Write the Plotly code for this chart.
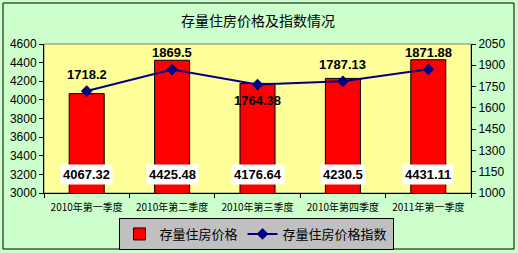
import plotly.graph_objects as go

categories = ["2010年第一季度", "2010年第二季度", "2010年第三季度", "2010年第四季度", "2011年第一季度"]
prices = [4067.32, 4425.48, 4176.64, 4230.5, 4431.11]
index_vals = [1718.2, 1869.5, 1764.38, 1787.13, 1871.88]
price_labels = ["4067.32", "4425.48", "4176.64", "4230.5", "4431.11"]
index_labels = ["1718.2", "1869.5", "1764.38", "1787.13", "1871.88"]
left_ticks = [3000, 3200, 3400, 3600, 3800, 4000, 4200, 4400, 4600]
right_ticks = [1000, 1150, 1300, 1450, 1600, 1750, 1900, 2050]

num_font = "Liberation Sans, Arial, sans-serif"
cjk_font = "Noto Sans CJK SC, sans-serif"

fig = go.Figure()
fig.add_trace(go.Bar(
    x=categories, y=prices, name="存量住房价格",
    marker=dict(color="#FF0000", line=dict(color="black", width=1)),
    yaxis="y",
))
fig.add_trace(go.Scatter(
    x=categories, y=index_vals, name="存量住房价格指数", mode="lines+markers",
    line=dict(color="#000080", width=2),
    marker=dict(symbol="diamond", size=9, color="#000080"),
    yaxis="y2",
))

annotations = []
for c, lab in zip(categories, price_labels):
    annotations.append(dict(
        x=c, y=3200, xref="x", yref="y", text="<b>" + lab + "</b>", showarrow=False,
        bgcolor="white", font=dict(family=num_font, size=13, color="black"),
        borderpad=2,
    ))
for i, (c, v, lab) in enumerate(zip(categories, index_vals, index_labels)):
    annotations.append(dict(
        x=c, y=v, xref="x", yref="y2", text="<b>" + lab + "</b>", showarrow=False,
        yshift=(-16 if i == 2 else 17),
        font=dict(family=num_font, size=13, color="black"),
    ))
annotations.append(dict(
    x=(258 - 44) / 427, y=(193 - 20) / 149, xref="paper", yref="paper", yanchor="middle",
    text="存量住房价格及指数情况", showarrow=False,
    font=dict(family=cjk_font, size=14, color="black"),
))

fig.update_layout(
    width=518, height=253,
    margin=dict(l=44, r=47, t=44, b=60, autoexpand=False),
    paper_bgcolor="#CCFFCC",
    plot_bgcolor="#FFFF99",
    bargap=0.59,
    showlegend=True,
    legend=dict(
        orientation="h", x=(256 - 44) / 427, xanchor="center",
        y=1 - 234 / 253, yref="container", yanchor="middle",
        bgcolor="#C0C0C0", bordercolor="black", borderwidth=1,
        font=dict(family=cjk_font, size=13, color="black"),
        itemwidth=30, tracegroupgap=0,
    ),
    xaxis=dict(
        showline=True, linecolor="black", linewidth=1,
        ticks="outside", ticklen=4, tickcolor="black",
        tickfont=dict(family=cjk_font, size=10, color="black"),
        showgrid=False, tickson="boundaries", ticklabelstandoff=5,
    ),
    yaxis=dict(
        range=[3000, 4600], tickvals=left_ticks, showgrid=False,
        showline=True, linecolor="black", linewidth=1,
        ticks="outside", ticklen=4, tickcolor="black",
        tickfont=dict(family=num_font, size=12, color="black"),
        zeroline=False,
    ),
    yaxis2=dict(
        range=[1000, 2050], tickvals=right_ticks, overlaying="y", side="right",
        showgrid=False, showline=True, linecolor="black", linewidth=1,
        ticks="outside", ticklen=4, tickcolor="black",
        tickfont=dict(family=num_font, size=12, color="black"),
        zeroline=False,
    ),
    annotations=annotations,
    shapes=[
        dict(type="rect", xref="paper", yref="paper",
             x0=(3 - 44) / 427, x1=(514 - 44) / 427,
             y0=(193 - 249) / 149, y1=(193 - 3) / 149,
             line=dict(color="black", width=1), layer="below"),
        dict(type="rect", xref="paper", yref="paper", x0=0, x1=1, y0=0, y1=1,
             line=dict(color="#808080", width=1), layer="below"),
    ],
)

fig.write_html("out.html")
